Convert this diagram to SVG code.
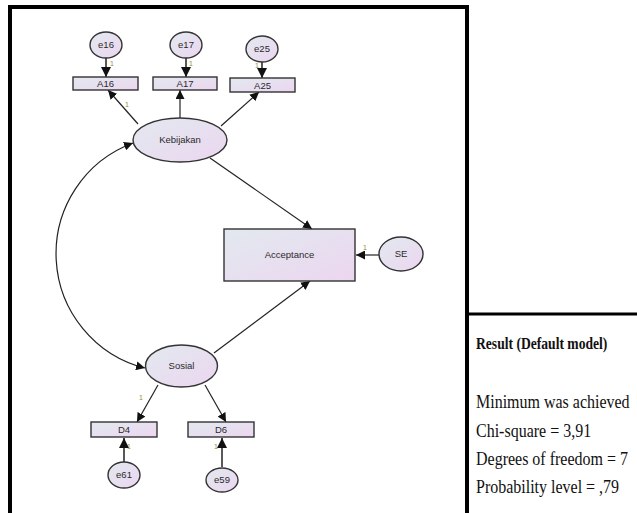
<svg xmlns="http://www.w3.org/2000/svg" width="637" height="513" viewBox="0 0 637 513">
<defs>
<linearGradient id="g" x1="0" y1="0" x2="1" y2="1">
<stop offset="0" stop-color="#e2e9ef"/>
<stop offset="1" stop-color="#ecd6f0"/>
</linearGradient>
<marker id="ah" viewBox="0 0 10 10" refX="10" refY="5" markerWidth="9" markerHeight="9" markerUnits="userSpaceOnUse" orient="auto-start-reverse">
<path d="M0,0 L10,5 L0,10 z" fill="#111"/>
</marker>
<marker id="ahb" viewBox="0 0 10 10" refX="10" refY="5" markerWidth="10" markerHeight="10" markerUnits="userSpaceOnUse" orient="auto-start-reverse">
<path d="M0,0 L10,5 L0,10 z" fill="#111"/>
</marker>
</defs>
<style>
.n{fill:url(#g);stroke:#333;stroke-width:1.4}
.t{font-family:"Liberation Sans",Arial,sans-serif;font-size:9.5px;fill:#2a2a2a;text-anchor:middle}
.c{stroke:#222;stroke-width:1.2;fill:none;marker-end:url(#ah)}
.cb{stroke:#222;stroke-width:1.5;fill:none;marker-end:url(#ahb)}
.w{font-family:"Liberation Sans",Arial,sans-serif;font-size:7px;fill:#9a8a30}
.r{font-family:"Liberation Serif","Times New Roman",serif;fill:#111;font-size:16px}
.rh{font-family:"Liberation Serif","Times New Roman",serif;fill:#111;font-size:13.6px;font-weight:bold}
</style>
<rect x="0" y="0" width="637" height="513" fill="#fff"/>
<g id="frame">
<path d="M10,515 V7 H467 V515" fill="none" stroke="#000" stroke-width="4"/>
<path d="M467,314 H637" fill="none" stroke="#000" stroke-width="3"/>
</g>
<g id="connectors">
<path class="cb" d="M106,58 V77"/>
<path class="cb" d="M186,58 V77"/>
<path class="cb" d="M262,62 V78"/>
<path class="c" d="M138,124 L108,90"/>
<path class="c" d="M180,118 V90"/>
<path class="c" d="M221,126 L259,92"/>
<path class="c" d="M210,158 L312,229"/>
<path class="c" d="M214,353 L310,281"/>
<path class="c" d="M379,255 H356"/>
<path class="c" d="M158,385 L137,422"/>
<path class="c" d="M205,385 L226,422"/>
<path class="cb" d="M124,462 V438"/>
<path class="cb" d="M222,467 V438"/>
<path class="c" style="marker-start:url(#ah)" d="M133,143 A118,118 0 0,0 145,368"/>
<text class="w" x="110" y="66">1</text>
<text class="w" x="189" y="66">1</text>
<text class="w" x="255" y="68">1</text>
<text class="w" x="125" y="107">1</text>
<text class="w" x="363" y="250">1</text>
<text class="w" x="139" y="400">1</text>
<text class="w" x="127" y="449">1</text>
<text class="w" x="214" y="449">1</text>
</g>
<g id="e16"><ellipse class="n" cx="106" cy="45" rx="16" ry="13"/><text class="t" x="106" y="48">e16</text></g>
<g id="e17"><ellipse class="n" cx="186" cy="45" rx="16" ry="13"/><text class="t" x="186" y="48">e17</text></g>
<g id="e25"><ellipse class="n" cx="262" cy="49" rx="16" ry="13"/><text class="t" x="262" y="52">e25</text></g>
<g id="A16"><rect class="n" x="73" y="77" width="65" height="13"/><text class="t" x="105.5" y="87">A16</text></g>
<g id="A17"><rect class="n" x="153" y="77" width="64" height="13"/><text class="t" x="185" y="87">A17</text></g>
<g id="A25"><rect class="n" x="230" y="78" width="65" height="14"/><text class="t" x="262.5" y="88.5">A25</text></g>
<g id="Kebijakan"><ellipse class="n" cx="180" cy="140" rx="47" ry="22"/><text class="t" x="180" y="143">Kebijakan</text></g>
<g id="Acceptance"><rect class="n" x="224" y="229" width="131" height="52"/><text class="t" x="289.5" y="258">Acceptance</text></g>
<g id="SE"><ellipse class="n" cx="401" cy="254" rx="22" ry="17"/><text class="t" x="401" y="257">SE</text></g>
<g id="Sosial"><ellipse class="n" cx="181.5" cy="366" rx="36" ry="21"/><text class="t" x="181.5" y="369">Sosial</text></g>
<g id="D4"><rect class="n" x="91" y="422" width="66" height="15"/><text class="t" x="124" y="433">D4</text></g>
<g id="D6"><rect class="n" x="188" y="422" width="66" height="15"/><text class="t" x="221" y="433">D6</text></g>
<g id="e61"><ellipse class="n" cx="124" cy="475" rx="16" ry="13"/><text class="t" x="124" y="478">e61</text></g>
<g id="e59"><ellipse class="n" cx="222" cy="480" rx="16" ry="12"/><text class="t" x="222" y="483">e59</text></g>
<g id="results">
<text class="rh" transform="translate(476,349) scale(1,1.2)">Result (Default model)</text>
<text class="r" transform="translate(476,408) scale(1,1.2)">Minimum was achieved</text>
<text class="r" transform="translate(476,437) scale(1,1.2)">Chi-square = 3,91</text>
<text class="r" transform="translate(476,465) scale(1,1.2)">Degrees of freedom = 7</text>
<text class="r" transform="translate(476,493) scale(1,1.2)">Probability level = ,79</text>
</g>
</svg>
